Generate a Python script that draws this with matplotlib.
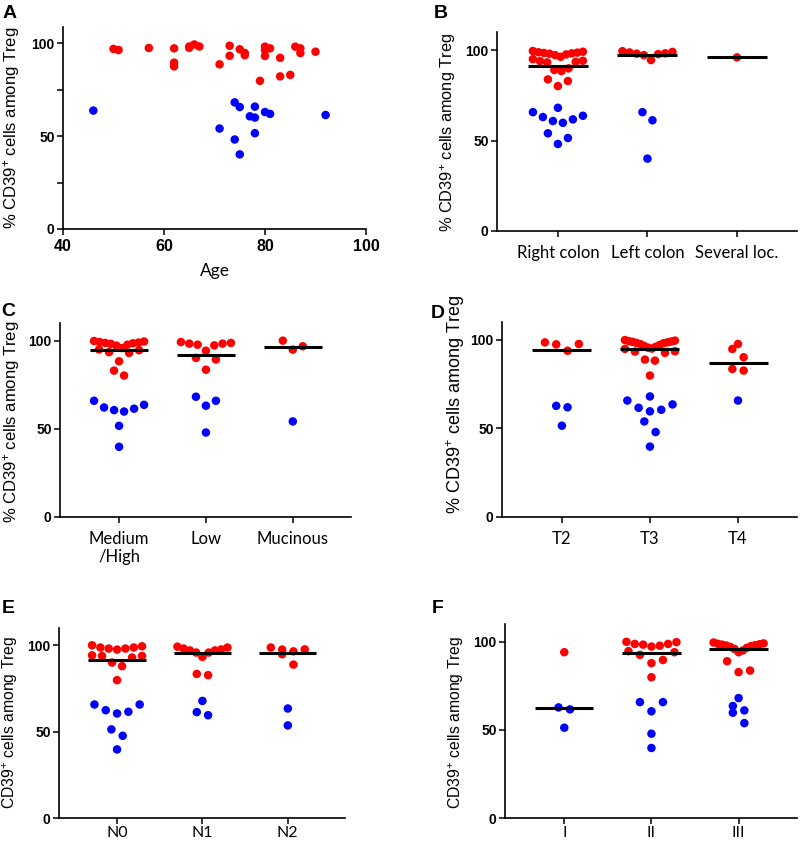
import numpy as np
import matplotlib
matplotlib.use('Agg')
import matplotlib.pyplot as plt
from matplotlib.ticker import MultipleLocator

plt.rcParams['font.family'] = ['Liberation Sans', 'DejaVu Sans']
plt.rcParams['mathtext.fontset'] = 'custom'
plt.rcParams['mathtext.rm'] = 'Liberation Sans'
plt.rcParams['mathtext.it'] = 'Liberation Sans:italic'
plt.rcParams['mathtext.bf'] = 'Liberation Sans:bold'

RED = '#ff0000'
BLUE = '#0000ff'

# ---------------- Panel A: age vs % CD39+ ----------------
age_red = [50, 51, 57, 62, 62, 62, 65, 65, 66, 67, 71, 73, 73, 75, 76, 76,
           80, 80, 80, 81, 83, 86, 87, 87, 90, 79, 83, 85]
val_red = [97.0, 96.4, 97.5, 97.3, 89.6, 87.6, 97.6, 98.3, 99.4, 98.3, 88.7,
           98.7, 93.3, 96.8, 94.8, 93.6, 98.2, 96.4, 93.2, 97.3, 92.2, 98.2,
           97.3, 94.8, 95.5, 79.8, 82.2, 83.0]
age_blue = [46, 74, 75, 78, 77, 78, 80, 81, 92, 71, 74, 78, 75]
val_blue = [63.8, 68.2, 65.7, 65.9, 60.7, 60.0, 63.0, 62.0, 61.4, 54.1, 48.2,
            51.6, 40.2]

# ---------------- Panel B: localisation ----------------
loc_labels = ['Right colon', 'Left colon', 'Several loc.']
loc_red = [[99.5, 99.1, 98.8, 98.6, 98.4, 98.2, 98.0, 97.6, 97.2, 96.3, 95.0,
            94.1, 93.9, 93.5, 93.2, 89.9, 89.0, 88.4, 83.8, 82.9, 80.1],
           [98.2, 97.8, 99.4, 94.5, 97.2, 99.0, 98.0, 98.7],
           [96.0]]
loc_blue = [[65.7, 63.0, 60.8, 68.1, 59.8, 61.7, 63.7, 54.0, 51.4, 48.1],
            [65.7, 61.2, 40.0],
            []]
loc_median = [91.4, 97.3, 96.0]

# ---------------- Panel C: differentiation ----------------
diff_labels = ['Medium\n/High', 'Low', 'Mucinous']
diff_red = [[99.8, 99.5, 99.2, 98.9, 98.7, 98.5, 98.2, 97.7, 97.2, 95.8, 95.0,
             94.6, 93.5, 93.0, 88.3, 83.0, 80.2],
            [98.7, 98.3, 97.3, 94.3, 97.7, 98.3, 99.2, 90.2, 89.3, 83.5],
            [96.8, 94.9, 100.0]]
diff_blue = [[63.6, 61.4, 59.8, 60.6, 62.1, 65.9, 51.7, 39.8],
             [65.9, 63.1, 68.2, 47.9],
             [54.2]]
diff_median = [94.6, 92.0, 96.2]

# ---------------- Panel D: T stage ----------------
t_labels = ['T2', 'T3', 'T4']
t_red = [[97.6, 93.8, 97.4, 98.5],
         [99.8, 99.5, 99.2, 99.0, 98.8, 98.5, 98.2, 98.0, 97.5, 97.0, 96.5,
          96.0, 95.5, 95.0, 94.8, 93.5, 93.3, 92.6, 88.8, 88.2, 79.8],
         [97.6, 94.8, 90.1, 83.5, 82.6]]
t_blue = [[62.7, 61.9, 51.5],
          [65.7, 61.6, 68.0, 59.6, 60.5, 63.5, 53.9, 47.9, 39.7],
          [65.7]]
t_median = [94.0, 94.9, 86.9]

# ---------------- Panel E: N stage ----------------
n_labels = ['N0', 'N1', 'N2']
n_red = [[100.0, 99.4, 98.7, 98.7, 98.1, 98.1, 97.5, 94.2, 93.8, 93.8, 92.9,
          90.0, 87.9, 79.8],
         [99.2, 98.7, 98.1, 97.6, 97.0, 97.0, 95.8, 95.8, 93.3, 83.4, 82.7],
         [98.7, 97.6, 97.5, 96.5, 94.8, 88.8]]
n_blue = [[65.7, 62.4, 60.5, 61.5, 65.7, 51.3, 47.6, 39.7],
          [67.8, 59.5, 61.3],
          [63.4, 53.6]]
n_median = [91.3, 95.8, 95.6]

# ---------------- Panel F: stage ----------------
s_labels = ['I', 'II', 'III']
s_red = [[94.0],
         [99.9, 99.7, 98.7, 98.7, 98.3, 97.7, 97.2, 94.6, 94.0, 92.5, 89.6,
          87.8, 79.8],
         [99.5, 99.0, 98.8, 98.5, 98.3, 98.0, 97.8, 97.5, 97.0, 96.5, 95.9,
          95.0, 94.0, 88.9, 83.6, 82.7]]
s_blue = [[62.7, 61.6, 51.2],
          [65.7, 65.7, 60.5, 47.8, 39.7],
          [63.5, 61.0, 59.7, 68.0, 53.8]]
s_median = [62.3, 93.4, 95.9]

W, H = 800, 844
fig = plt.figure(figsize=(W / 100, H / 100), dpi=100)

MS = 37.5          # marker area (pt^2), ~8.5 px diameter
CAT_FONT = ['Lato', 'DejaVu Sans']
YLAB = r'% CD39$^{+}$ cells among Treg'
YLAB2 = r'CD39$^{+}$ cells among Treg'


def px_axes(l, t, r, b):
    return fig.add_axes([l / W, 1 - b / H, (r - l) / W, (b - t) / H])


def style(ax):
    for s in ['top', 'right']:
        ax.spines[s].set_visible(False)
    for s in ['left', 'bottom']:
        ax.spines[s].set_linewidth(1.2)
    ax.tick_params(axis='both', which='both', direction='out', width=1.1,
                   length=4, color='black')
    ax.tick_params(axis='y', labelsize=10, pad=2)
    for lab in ax.get_yticklabels():
        lab.set_fontweight('bold')


def row_offsets(values, ppx, ppy, bin_px=12.0, sp_px=10.5, max_px=25.0):
    """Scatter-dot-plot layout: values are grouped into horizontal rows,
    lowest value in the middle, then alternating right/left."""
    vals = np.asarray(values, float)
    n = len(vals)
    order = np.argsort(vals, kind='stable')
    offs = np.zeros(n)
    i = 0
    while i < n:
        v0 = vals[order[i]]
        j = i
        while j < n and (vals[order[j]] - v0) * ppy <= bin_px:
            j += 1
        members = order[i:j]
        m = len(members)
        slots = []
        if m % 2 == 1:
            slots.append(0.0)
            k = 1
            while len(slots) < m:
                slots += [k, -k]
                k += 1
        else:
            k = 0.5
            while len(slots) < m:
                slots += [k, -k]
                k += 1
        slots = slots[:m]
        mx = max(abs(s) for s in slots)
        sp = sp_px if mx * sp_px <= max_px or mx == 0 else max_px / mx
        for s, idx in zip(slots, members):
            offs[idx] = s * sp / ppx
        i = j
    return offs


def cat_panel(ax, box, labels, reds, blues, medians, ylab, letter, letter_xy,
              sp_px, ylab_size, ylab_cy, ylab_dx=49, xpad=6, xsize=12):
    xlim = (-0.68, 2.67)
    ylim = (0, 110)
    l, t, r, b = box
    ppx = (r - l) / (xlim[1] - xlim[0])
    ppy = (b - t) / (ylim[1] - ylim[0])
    for k in range(len(labels)):
        vals = list(reds[k]) + list(blues[k])
        cols = [RED] * len(reds[k]) + [BLUE] * len(blues[k])
        offs = row_offsets(vals, ppx, ppy, sp_px=sp_px)
        ax.scatter(k + offs, vals, s=MS, c=cols, edgecolors='none', zorder=2)
        ax.hlines(medians[k], k - 0.335, k + 0.335, colors='black',
                  linewidth=2.2, zorder=3)
    ax.set_xlim(*xlim)
    ax.set_ylim(*ylim)
    ax.set_yticks([0, 50, 100])
    ax.set_xticks(range(len(labels)))
    ax.set_xticklabels(labels, family=CAT_FONT, fontsize=xsize,
                       linespacing=1.2)
    style(ax)
    ax.tick_params(axis='x', pad=xpad)
    ax.text(-ylab_dx / (r - l), (b - ylab_cy) / (b - t), ylab,
            transform=ax.transAxes, rotation=90,
            ha='center', va='center', fontsize=ylab_size)
    fig.text(letter_xy[0] / W, 1 - letter_xy[1] / H, letter, ha='left',
             va='top', fontsize=14, fontweight='bold')


# Panel A
boxA = (63, 27, 366, 229)
axA = px_axes(*boxA)
axA.scatter(age_red, val_red, s=MS, c=RED, edgecolors='none')
axA.scatter(age_blue, val_blue, s=MS, c=BLUE, edgecolors='none')
axA.set_xlim(40, 100)
axA.set_ylim(0, 108.8)
axA.set_xticks([40, 60, 80, 100])
axA.set_yticks([0, 50, 100])
axA.yaxis.set_minor_locator(MultipleLocator(25))
style(axA)
axA.tick_params(axis='x', labelsize=11.5, pad=3)
for lab in axA.get_xticklabels():
    lab.set_fontweight('bold')
axA.set_xlabel('Age', family=CAT_FONT, fontsize=12.5, labelpad=7)
axA.text(-51 / (366 - 63), 0.5, YLAB, transform=axA.transAxes, rotation=90,
         ha='center', va='center', fontsize=12)
fig.text(3 / W, 1 - 5 / H, 'A', ha='left', va='top', fontsize=14,
         fontweight='bold')

boxB = (497, 32, 797, 231)
cat_panel(px_axes(*boxB), boxB, loc_labels, loc_red, loc_blue, loc_median,
          YLAB, 'B', (434, 5), 10.0, 11.8, 132)
boxC = (60, 323, 351, 517)
cat_panel(px_axes(*boxC), boxC, diff_labels, diff_red, diff_blue,
          diff_median, YLAB, 'C', (1, 303), 10.0, 12, 422, 48)
boxD = (502, 322, 797, 517)
cat_panel(px_axes(*boxD), boxD, t_labels, t_red, t_blue, t_median,
          YLAB, 'D', (431, 305), 11.3, 13, 404, 46)
boxE = (59, 628, 345, 818)
cat_panel(px_axes(*boxE), boxE, n_labels, n_red, n_blue, n_median,
          YLAB2, 'E', (2, 600), 11.3, 11.3, 722, xpad=1.5, xsize=11.5)
boxF = (505, 624, 797, 818)
cat_panel(px_axes(*boxF), boxF, s_labels, s_red, s_blue, s_median,
          YLAB2, 'F', (432, 600), 11.5, 11.3, 722, xpad=1.5, xsize=11.5)

fig.savefig('out.png', dpi=100)
